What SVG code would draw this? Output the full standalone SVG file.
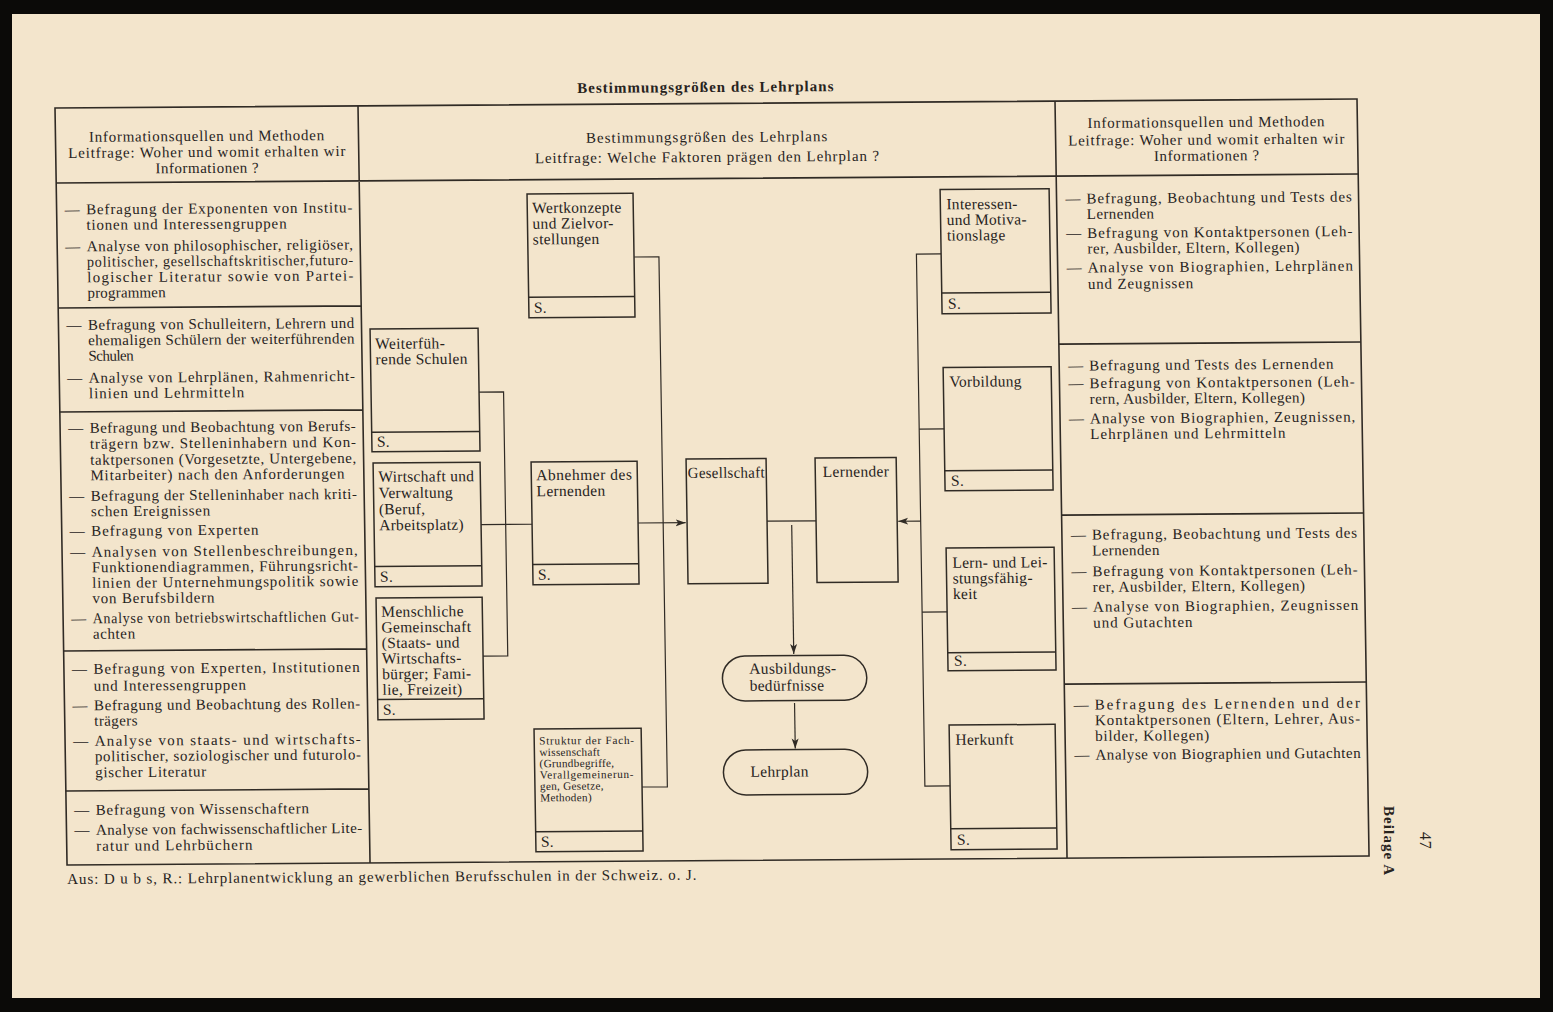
<svg xmlns="http://www.w3.org/2000/svg" width="1553" height="1012" viewBox="0 0 1553 1012">
<style>
.pg{fill:#f3e5cc}
.ln{fill:none;stroke:#302b25;stroke-width:1.6}
.bxr{fill:none;stroke:#302b25;stroke-width:1.5}
.cn{fill:none;stroke:#302b25;stroke-width:1.2}
.t{font-family:"Liberation Serif","Times New Roman",serif;font-size:15px;letter-spacing:0.8px;fill:#27231d}
.bt{font-family:"Liberation Serif","Times New Roman",serif;font-size:15.5px;letter-spacing:0.3px;fill:#27231d}
.sm{font-family:"Liberation Serif","Times New Roman",serif;font-size:11.2px;letter-spacing:0.3px;fill:#27231d}
.c{text-anchor:middle}
.b{font-weight:bold}
</style>
<defs>
<marker id="ah" markerUnits="userSpaceOnUse" markerWidth="12" markerHeight="9" refX="10" refY="4" orient="auto">
<path d="M0,0.5 L10,4 L0,7.5 L2.5,4 Z" fill="#302b25"/>
</marker>
</defs>
<rect x="0" y="0" width="1553" height="1012" fill="#0b0a08"/>
<rect class="pg" x="12" y="14" width="1528" height="984"/>

<g id="sheet" transform="matrix(1 -0.0069 0.0159 1 55 108)">
<text id="title" class="t c b" x="651" y="-11.5" textLength="257" lengthAdjust="spacing">Bestimmungsgrößen des Lehrplans</text>

<g id="table">
<rect class="ln" x="0" y="0" width="1302" height="757"/>
<path class="ln" d="M0,75 H1302 M303,0 V757 M1000,0 V757 M0,200 H303 M0,304 H303 M0,543 H303 M0,683 H303 M1000,243 H1302 M1000,414 H1302 M1000,583 H1302"/>
</g>

<g id="headers">
<text class="t c" x="151.5" y="34" textLength="236" lengthAdjust="spacing">Informationsquellen und Methoden</text>
<text class="t c" x="151.5" y="50" textLength="278" lengthAdjust="spacing">Leitfrage: Woher und womit erhalten wir</text>
<text class="t c" x="151.5" y="66" textLength="104" lengthAdjust="spacing">Informationen ?</text>
<text class="t c" x="651.5" y="38.5" textLength="242" lengthAdjust="spacing">Bestimmungsgrößen des Lehrplans</text>
<text class="t c" x="651.5" y="58.5" textLength="345" lengthAdjust="spacing">Leitfrage: Welche Faktoren prägen den Lehrplan ?</text>
<text class="t c" x="1151" y="27" textLength="238" lengthAdjust="spacing">Informationsquellen und Methoden</text>
<text class="t c" x="1151" y="44.5" textLength="277" lengthAdjust="spacing">Leitfrage: Woher und womit erhalten wir</text>
<text class="t c" x="1151" y="60.5" textLength="106" lengthAdjust="spacing">Informationen ?</text>
</g>

<g id="left-sources">
<text class="t" x="8" y="106.5">—</text><text class="t" x="29.5" y="106.5" textLength="267" lengthAdjust="spacing">Befragung der Exponenten von Institu-</text>
<text class="t" x="29.5" y="122" textLength="201" lengthAdjust="spacing">tionen und Interessengruppen</text>
<text class="t" x="8" y="143.5">—</text><text class="t" x="29.5" y="143.5" textLength="267" lengthAdjust="spacing">Analyse von philosophischer, religiöser,</text>
<text class="t" x="29.5" y="159" textLength="267" lengthAdjust="spacingAndGlyphs">politischer, gesellschaftskritischer,futuro-</text>
<text class="t" x="29.5" y="174.5" textLength="267" lengthAdjust="spacing">logischer Literatur sowie von Partei-</text>
<text class="t" x="29.5" y="190" textLength="79" lengthAdjust="spacing">programmen</text>

<text class="t" x="8" y="222">—</text><text class="t" x="29.5" y="222" textLength="267" lengthAdjust="spacing">Befragung von Schulleitern, Lehrern und</text>
<text class="t" x="29.5" y="237.5" textLength="267" lengthAdjust="spacing">ehemaligen Schülern der weiterführenden</text>
<text class="t" x="29.5" y="253" textLength="46" lengthAdjust="spacing">Schulen</text>
<text class="t" x="8" y="275">—</text><text class="t" x="29.5" y="275" textLength="267" lengthAdjust="spacing">Analyse von Lehrplänen, Rahmenricht-</text>
<text class="t" x="29.5" y="290.5" textLength="156" lengthAdjust="spacing">linien und Lehrmitteln</text>

<text class="t" x="8" y="325">—</text><text class="t" x="29.5" y="325" textLength="267" lengthAdjust="spacing">Befragung und Beobachtung von Berufs-</text>
<text class="t" x="29.5" y="341" textLength="267" lengthAdjust="spacing">trägern bzw. Stelleninhabern und Kon-</text>
<text class="t" x="29.5" y="357" textLength="267" lengthAdjust="spacing">taktpersonen (Vorgesetzte, Untergebene,</text>
<text class="t" x="29.5" y="372.5" textLength="255" lengthAdjust="spacing">Mitarbeiter) nach den Anforderungen</text>
<text class="t" x="8" y="393">—</text><text class="t" x="29.5" y="393" textLength="267" lengthAdjust="spacing">Befragung der Stelleninhaber nach kriti-</text>
<text class="t" x="29.5" y="408.5" textLength="120" lengthAdjust="spacing">schen Ereignissen</text>
<text class="t" x="8" y="428">—</text><text class="t" x="29.5" y="428" textLength="168" lengthAdjust="spacing">Befragung von Experten</text>
<text class="t" x="8" y="449">—</text><text class="t" x="29.5" y="449" textLength="267" lengthAdjust="spacing">Analysen von Stellenbeschreibungen,</text>
<text class="t" x="29.5" y="464.5" textLength="267" lengthAdjust="spacing">Funktionendiagrammen, Führungsricht-</text>
<text class="t" x="29.5" y="480" textLength="267" lengthAdjust="spacing">linien der Unternehmungspolitik sowie</text>
<text class="t" x="29.5" y="495.5" textLength="123" lengthAdjust="spacing">von Berufsbildern</text>
<text class="t" x="8" y="515.5">—</text><text class="t" x="29.5" y="515.5" textLength="267" lengthAdjust="spacingAndGlyphs">Analyse von betriebswirtschaftlichen Gut-</text>
<text class="t" x="29.5" y="531" textLength="43" lengthAdjust="spacing">achten</text>

<text class="t" x="8" y="566">—</text><text class="t" x="29.5" y="566" textLength="267" lengthAdjust="spacing">Befragung von Experten, Institutionen</text>
<text class="t" x="29.5" y="583" textLength="153" lengthAdjust="spacing">und Interessengruppen</text>
<text class="t" x="8" y="602.5">—</text><text class="t" x="29.5" y="602.5" textLength="267" lengthAdjust="spacing">Befragung und Beobachtung des Rollen-</text>
<text class="t" x="29.5" y="618" textLength="44" lengthAdjust="spacing">trägers</text>
<text class="t" x="8" y="638">—</text><text class="t" x="29.5" y="638" textLength="267" lengthAdjust="spacing">Analyse von staats- und wirtschafts-</text>
<text class="t" x="29.5" y="653.5" textLength="267" lengthAdjust="spacing">politischer, soziologischer und futurolo-</text>
<text class="t" x="29.5" y="669.5" textLength="112" lengthAdjust="spacing">gischer Literatur</text>

<text class="t" x="8" y="707">—</text><text class="t" x="29.5" y="707" textLength="214" lengthAdjust="spacing">Befragung von Wissenschaftern</text>
<text class="t" x="8" y="727">—</text><text class="t" x="29.5" y="727" textLength="267" lengthAdjust="spacing">Analyse von fachwissenschaftlicher Lite-</text>
<text class="t" x="29.5" y="743" textLength="157" lengthAdjust="spacing">ratur und Lehrbüchern</text>
</g>

<g id="right-sources">
<text class="t" x="1009" y="102.5">—</text><text class="t" x="1030" y="102.5" textLength="266" lengthAdjust="spacing">Befragung, Beobachtung und Tests des</text>
<text class="t" x="1030" y="118" textLength="68" lengthAdjust="spacing">Lernenden</text>
<text class="t" x="1009" y="137">—</text><text class="t" x="1030" y="137" textLength="266" lengthAdjust="spacing">Befragung von Kontaktpersonen (Leh-</text>
<text class="t" x="1030" y="152.6" textLength="213" lengthAdjust="spacing">rer, Ausbilder, Eltern, Kollegen)</text>
<text class="t" x="1009" y="171.5">—</text><text class="t" x="1030" y="171.5" textLength="266" lengthAdjust="spacing">Analyse von Biographien, Lehrplänen</text>
<text class="t" x="1030" y="188" textLength="106" lengthAdjust="spacing">und Zeugnissen</text>

<text class="t" x="1009" y="269.5">—</text><text class="t" x="1030" y="269.5" textLength="245" lengthAdjust="spacing">Befragung und Tests des Lernenden</text>
<text class="t" x="1009" y="287.3">—</text><text class="t" x="1030" y="287.3" textLength="266" lengthAdjust="spacing">Befragung von Kontaktpersonen (Leh-</text>
<text class="t" x="1030" y="303" textLength="216" lengthAdjust="spacing">rern, Ausbilder, Eltern, Kollegen)</text>
<text class="t" x="1009" y="322.5">—</text><text class="t" x="1030" y="322.5" textLength="266" lengthAdjust="spacing">Analyse von Biographien, Zeugnissen,</text>
<text class="t" x="1030" y="338.2" textLength="196" lengthAdjust="spacing">Lehrplänen und Lehrmitteln</text>

<text class="t" x="1009" y="438.6">—</text><text class="t" x="1030" y="438.6" textLength="266" lengthAdjust="spacing">Befragung, Beobachtung und Tests des</text>
<text class="t" x="1030" y="454.6" textLength="68" lengthAdjust="spacing">Lernenden</text>
<text class="t" x="1009" y="475.3">—</text><text class="t" x="1030" y="475.3" textLength="266" lengthAdjust="spacing">Befragung von Kontaktpersonen (Leh-</text>
<text class="t" x="1030" y="491" textLength="213" lengthAdjust="spacing">rer, Ausbilder, Eltern, Kollegen)</text>
<text class="t" x="1009" y="510.8">—</text><text class="t" x="1030" y="510.8" textLength="266" lengthAdjust="spacing">Analyse von Biographien, Zeugnissen</text>
<text class="t" x="1030" y="526.8" textLength="100" lengthAdjust="spacing">und Gutachten</text>

<text class="t" x="1009" y="608.6">—</text><text class="t" x="1030" y="608.6" textLength="266" lengthAdjust="spacing">Befragung des Lernenden und der</text>
<text class="t" x="1030" y="624.3" textLength="266" lengthAdjust="spacing">Kontaktpersonen (Eltern, Lehrer, Aus-</text>
<text class="t" x="1030" y="640" textLength="115" lengthAdjust="spacing">bilder, Kollegen)</text>
<text class="t" x="1009" y="658.8">—</text><text class="t" x="1030" y="658.8" textLength="266" lengthAdjust="spacing">Analyse von Biographien und Gutachten</text>
</g>

<g id="connectors">
<path class="cn" d="M419.5,287 H444 V551 H419.3"/>
<path class="cn" d="M419.4,419.5 H470.4"/>
<path class="cn" d="M576.7,153 H601.5 V683 H576.2"/>
<path class="cn" d="M576.4,419 H624" marker-end="url(#ah)"/>
<path class="cn" d="M705.4,418 H754.4"/>
<path class="cn" d="M730,422 V551" marker-end="url(#ah)"/>
<path class="cn" d="M730,600 V645.5" marker-end="url(#ah)"/>
<path class="cn" d="M883.7,152 H859 V684 H884.2"/>
<path class="cn" d="M883.9,327 H859"/>
<path class="cn" d="M884,510 H859"/>
<path class="cn" d="M859,419 H836.5" marker-end="url(#ah)"/>
</g>

<g id="n-wertkonzepte">
<rect class="bxr" x="470.6" y="89.3" width="106" height="123.7"/>
<path class="bxr" d="M470.6,192.6 H576.6"/>
<text class="bt" x="475.6" y="108.3">Wertkonzepte</text>
<text class="bt" x="475.6" y="124">und Zielvor-</text>
<text class="bt" x="475.6" y="139.7">stellungen</text>
<text class="bt" x="475.6" y="208">S.</text>
</g>
<g id="n-weiterfuehrende">
<rect class="bxr" x="311.5" y="223.2" width="108" height="122.8"/>
<path class="bxr" d="M311.5,326.5 H419.5"/>
<text class="bt" x="316.5" y="243">Weiterfüh-</text>
<text class="bt" x="316.5" y="258.6">rende Schulen</text>
<text class="bt" x="316.5" y="341">S.</text>
</g>
<g id="n-wirtschaft">
<rect class="bxr" x="312.4" y="357.2" width="107" height="123.8"/>
<path class="bxr" d="M312.4,460.6 H419.4"/>
<text class="bt" x="317.4" y="376" textLength="96" lengthAdjust="spacing">Wirtschaft und</text>
<text class="bt" x="317.4" y="392.3">Verwaltung</text>
<text class="bt" x="317.4" y="408.6">(Beruf,</text>
<text class="bt" x="317.4" y="424.5">Arbeitsplatz)</text>
<text class="bt" x="317.4" y="476">S.</text>
</g>
<g id="n-menschliche">
<rect class="bxr" x="313.2" y="492.2" width="106.1" height="121.8"/>
<path class="bxr" d="M313.2,593.6 H419.3"/>
<text class="bt" x="318.2" y="511">Menschliche</text>
<text class="bt" x="318.2" y="526.6">Gemeinschaft</text>
<text class="bt" x="318.2" y="542.2">(Staats- und</text>
<text class="bt" x="318.2" y="557.8">Wirtschafts-</text>
<text class="bt" x="318.2" y="573.4">bürger; Fami-</text>
<text class="bt" x="318.2" y="589">lie, Freizeit)</text>
<text class="bt" x="318.2" y="609">S.</text>
</g>
<g id="n-abnehmer">
<rect class="bxr" x="470.4" y="357.3" width="106" height="122.7"/>
<path class="bxr" d="M470.4,459.7 H576.4"/>
<text class="bt" x="475.4" y="375.5" textLength="96" lengthAdjust="spacing">Abnehmer des</text>
<text class="bt" x="475.4" y="391.5">Lernenden</text>
<text class="bt" x="475.4" y="475">S.</text>
</g>
<g id="n-struktur">
<rect class="bxr" x="469.1" y="624.3" width="107.1" height="122.7"/>
<path class="bxr" d="M469.1,727 H576.2"/>
<text class="sm" x="474.1" y="639.8" textLength="95" lengthAdjust="spacing">Struktur der Fach-</text>
<text class="sm" x="474.1" y="651.3">wissenschaft</text>
<text class="sm" x="474.1" y="662.6">(Grundbegriffe,</text>
<text class="sm" x="474.1" y="673.9" textLength="94" lengthAdjust="spacing">Verallgemeinerun-</text>
<text class="sm" x="474.1" y="685.2">gen, Gesetze,</text>
<text class="sm" x="474.1" y="696.7">Methoden)</text>
<text class="bt" x="474.1" y="742">S.</text>
</g>
<g id="n-gesellschaft">
<rect class="bxr" x="625.4" y="355.4" width="80" height="124.6"/>
<text class="bt c" x="665.4" y="374.4" textLength="77" lengthAdjust="spacingAndGlyphs">Gesellschaft</text>
</g>
<g id="n-lernender">
<rect class="bxr" x="754.4" y="355.2" width="81.1" height="124.6"/>
<text class="bt c" x="795" y="374.2">Lernender</text>
</g>
<g id="n-ausbildungsbeduerfnisse">
<rect class="bxr" x="658.3" y="552.6" width="144.3" height="45" rx="22.5" ry="22.5"/>
<text class="bt" x="685.3" y="570.6">Ausbildungs-</text>
<text class="bt" x="685.3" y="587.6">bedürfnisse</text>
</g>
<g id="n-lehrplan">
<rect class="bxr" x="657.8" y="646.6" width="144.2" height="45" rx="22.5" ry="22.5"/>
<text class="bt" x="684.8" y="673.6">Lehrplan</text>
</g>
<g id="n-interessen">
<rect class="bxr" x="883.7" y="87.7" width="109" height="124.2"/>
<path class="bxr" d="M883.7,191 H992.7"/>
<text class="bt" x="889.7" y="107.5">Interessen-</text>
<text class="bt" x="889.7" y="123.1">und Motiva-</text>
<text class="bt" x="889.7" y="138.7">tionslage</text>
<text class="bt" x="889.7" y="207">S.</text>
</g>
<g id="n-vorbildung">
<rect class="bxr" x="883.9" y="265.6" width="108" height="123.3"/>
<path class="bxr" d="M883.9,368.9 H991.9"/>
<text class="bt" x="889.9" y="285">Vorbildung</text>
<text class="bt" x="889.9" y="384">S.</text>
</g>
<g id="n-lernfaehigkeit">
<rect class="bxr" x="884" y="446.1" width="108" height="122.8"/>
<path class="bxr" d="M884,550.9 H992"/>
<text class="bt" x="890" y="466">Lern- und Lei-</text>
<text class="bt" x="890" y="481.6">stungsfähig-</text>
<text class="bt" x="890" y="497.2">keit</text>
<text class="bt" x="890" y="564">S.</text>
</g>
<g id="n-herkunft">
<rect class="bxr" x="884.2" y="623.2" width="106" height="124.7"/>
<path class="bxr" d="M884.2,726.9 H990.2"/>
<text class="bt" x="890.2" y="643">Herkunft</text>
<text class="bt" x="890.2" y="743">S.</text>
</g>

<text id="footer" class="t" x="0" y="776" textLength="630" lengthAdjust="spacing">Aus: D u b s, R.: Lehrplanentwicklung an gewerblichen Berufsschulen in der Schweiz. o. J.</text>
</g>

<g id="margin">
<text class="t b" transform="translate(1384,806) rotate(90)" textLength="70" lengthAdjust="spacing">Beilage A</text>
<text class="t" style="font-size:16px" transform="translate(1420,832) rotate(90)">47</text>
</g>
</svg>
